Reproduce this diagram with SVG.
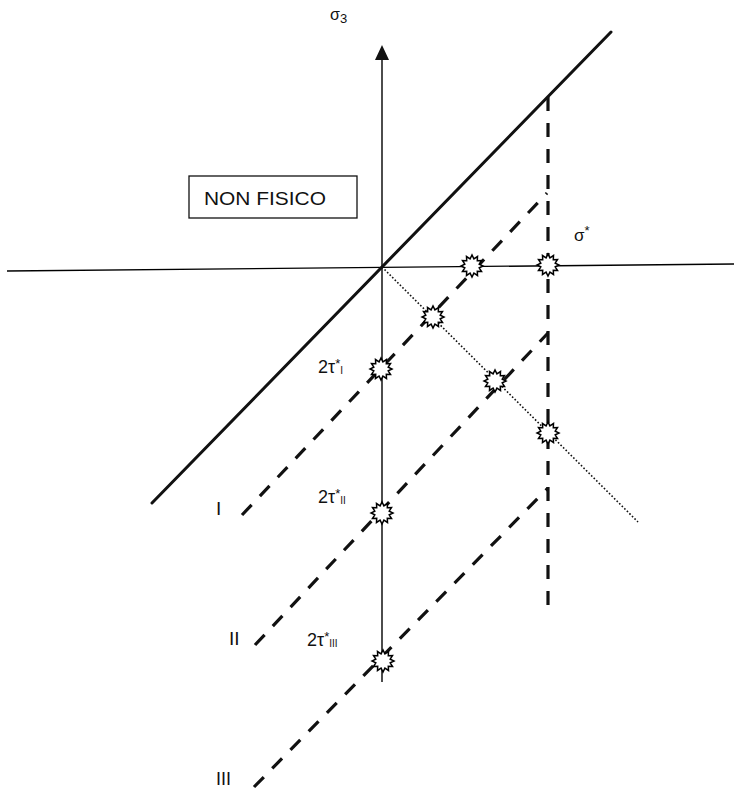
<svg xmlns="http://www.w3.org/2000/svg" width="734" height="790" viewBox="0 0 734 790">
<style>
.ax{stroke:#000;stroke-width:1.4;fill:none}
.thick{stroke:#111;stroke-width:3;fill:none;stroke-linecap:round}
.dash{stroke:#111;stroke-width:3.2;fill:none;stroke-dasharray:14 12}
.dot{stroke:#111;stroke-width:1.6;fill:none;stroke-dasharray:1.6 2}
.star{fill:#fff;stroke:#000;stroke-width:1.5;stroke-linejoin:miter}
text{font-family:"Liberation Sans",Arial,sans-serif;fill:#111}
.lbl{font-size:18px}
.sub{font-size:10px}
.sup{font-size:13px}
</style>
<defs>
<polygon id="burst" class="star" points="11,0 7.2,1.9 9.5,5.5 5.3,5.3 5.5,9.5 1.9,7.2 0,11 -1.9,7.2 -5.5,9.5 -5.3,5.3 -9.5,5.5 -7.2,1.9 -11,0 -7.2,-1.9 -9.5,-5.5 -5.3,-5.3 -5.5,-9.5 -1.9,-7.2 0,-11 1.9,-7.2 5.5,-9.5 5.3,-5.3 9.5,-5.5 7.2,-1.9"/>
</defs>
<rect width="734" height="790" fill="#fff"/>
<g id="connectors">
<line class="ax" x1="7" y1="271" x2="734" y2="264"/>
<line class="ax" x1="382" y1="682" x2="382" y2="58"/>
<polygon points="382,45 375,60 389,60" fill="#111"/>
<line class="thick" x1="152" y1="503" x2="611" y2="32"/>
<line class="dot" x1="382" y1="267" x2="638" y2="522"/>
<line class="dash" x1="548" y1="97" x2="548" y2="614"/>
<line class="dash" x1="242" y1="515" x2="547" y2="193"/>
<line class="dash" x1="255" y1="645" x2="548" y2="333"/>
<line class="dash" x1="254" y1="787" x2="548" y2="488"/>
</g>
<g id="stars">
<use id="s1" href="#burst" x="472" y="266"/>
<use id="s2" href="#burst" x="548" y="265"/>
<use id="s3" href="#burst" x="433" y="317"/>
<use id="s4" href="#burst" x="381" y="369"/>
<use id="s5" href="#burst" x="495" y="381"/>
<use id="s6" href="#burst" x="548" y="433"/>
<use id="s7" href="#burst" x="382" y="513"/>
<use id="s8" href="#burst" x="383" y="661"/>
</g>
<g id="nonfisico">
<rect x="189" y="176" width="168" height="42" fill="#fff" stroke="#111" stroke-width="1.3"/>
<text x="204" y="205" font-size="19" textLength="122" lengthAdjust="spacingAndGlyphs">NON FISICO</text>
</g>
<g id="labels">
<text x="330" y="20" font-size="16">σ<tspan font-size="13" dy="3">3</tspan></text>
<text x="574" y="241" font-size="17">σ<tspan font-size="13" dy="-6">*</tspan></text>
<text class="lbl" x="318" y="373">2τ<tspan class="sup" dy="-5">*</tspan><tspan class="sub" dy="6">I</tspan></text>
<text class="lbl" x="318" y="503">2τ<tspan class="sup" dy="-5">*</tspan><tspan class="sub" dy="6">II</tspan></text>
<text class="lbl" x="307" y="646">2τ<tspan class="sup" dy="-5">*</tspan><tspan class="sub" dy="6">III</tspan></text>
<text x="216" y="515" font-size="19">I</text>
<text x="229" y="645" font-size="19">II</text>
<text x="216" y="785" font-size="18">III</text>
</g>
</svg>
